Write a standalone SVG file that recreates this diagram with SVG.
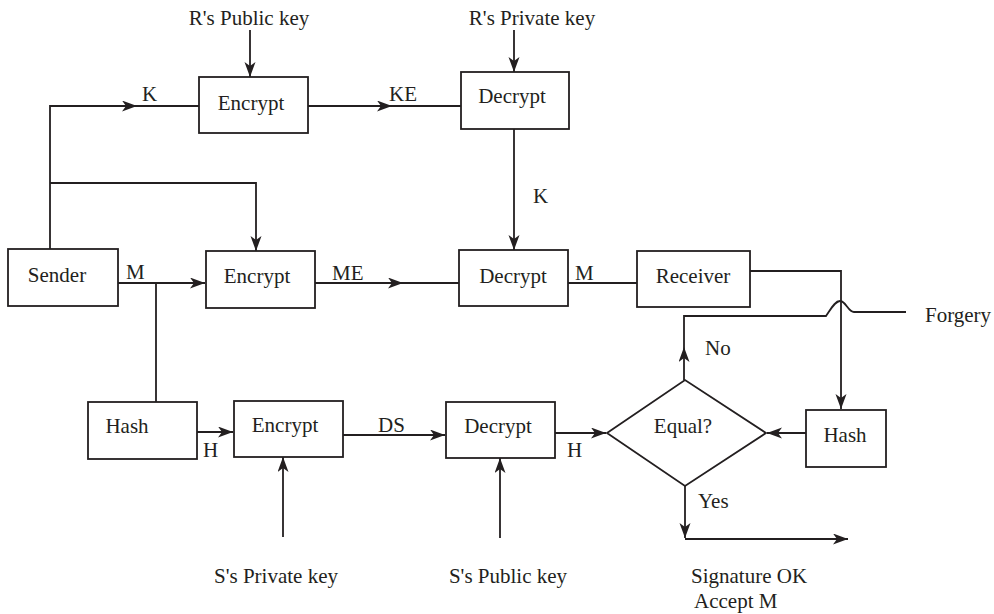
<svg xmlns="http://www.w3.org/2000/svg" width="994" height="614" viewBox="0 0 994 614" font-family="'Liberation Serif', 'DejaVu Serif', serif">
<style>
.box{fill:#fff;stroke:#231f20;stroke-width:1.8}
.ln{fill:none;stroke:#231f20;stroke-width:1.8}
.arr{marker-end:url(#ah)}
text{font-family:'Liberation Serif','DejaVu Serif',serif;font-size:21px;fill:#231f20}
.m{text-anchor:middle}
</style>
<defs>
<marker id="ah" markerUnits="userSpaceOnUse" markerWidth="16" markerHeight="12" refX="15" refY="5.5" orient="auto">
<path d="M0,0 L15,5.5 L0,11 L4,5.5 z" fill="#231f20"/>
</marker>
</defs>
<rect width="994" height="614" fill="#fff"/>
<g id="connectors">
<path class="ln arr" d="M250,30 L250,77"/>
<path class="ln arr" d="M514,30 L514,72"/>
<path class="ln arr" d="M50,249 L50,106 L137,106"/>
<path class="ln" d="M137,106 L199,106"/>
<path class="ln arr" d="M50,183 L256,183 L256,251"/>
<path class="ln arr" d="M308,106 L392,106"/>
<path class="ln" d="M392,106 L461,106"/>
<path class="ln arr" d="M514,129 L514,250"/>
<path class="ln arr" d="M118,283 L205,283"/>
<path class="ln" d="M156,283 L156,402"/>
<path class="ln arr" d="M315,283 L403,283"/>
<path class="ln" d="M403,283 L459,283"/>
<path class="ln" d="M568,283 L637,283"/>
<path class="ln arr" d="M750,271 L841,271 L841,409"/>
<path class="ln arr" d="M806,433 L767,433"/>
<path class="ln arr" d="M197,432 L233,432"/>
<path class="ln arr" d="M343,435 L445,435"/>
<path class="ln arr" d="M283,537 L283,457"/>
<path class="ln arr" d="M500,538 L500,458"/>
<path class="ln arr" d="M555,433 L606,433"/>
<path class="ln arr" d="M684,380 L684,347"/>
<path class="ln" d="M684,347 L684,316 L826,316 C831,309 835,301 840,301 C846,301 848,312 854,312 L906,312"/>
<path class="ln arr" d="M685,486 L685,538"/>
<path class="ln arr" d="M685,539 L848,539"/>
</g>
<g id="rpub"><text class="m" x="249" y="25">R's Public key</text></g>
<g id="rpriv"><text class="m" x="532" y="25">R's Private key</text></g>
<g id="enc1"><rect class="box" x="199" y="77" width="109" height="56"/><text class="m" x="251" y="110">Encrypt</text></g>
<g id="dec1"><rect class="box" x="461" y="72" width="108" height="57"/><text class="m" x="512" y="103">Decrypt</text></g>
<g id="sender"><rect class="box" x="8" y="249" width="110" height="57"/><text class="m" x="57" y="282">Sender</text></g>
<g id="enc2"><rect class="box" x="206" y="251" width="109" height="57"/><text class="m" x="257" y="283">Encrypt</text></g>
<g id="dec2"><rect class="box" x="459" y="250" width="109" height="56"/><text class="m" x="513" y="283">Decrypt</text></g>
<g id="receiver"><rect class="box" x="637" y="251" width="113" height="56"/><text class="m" x="693" y="283">Receiver</text></g>
<g id="hash1"><rect class="box" x="88" y="402" width="109" height="57"/><text class="m" x="127" y="433">Hash</text></g>
<g id="enc3"><rect class="box" x="234" y="401" width="109" height="56"/><text class="m" x="285" y="432">Encrypt</text></g>
<g id="dec3"><rect class="box" x="446" y="402" width="109" height="56"/><text class="m" x="498" y="433">Decrypt</text></g>
<g id="hash2"><rect class="box" x="806" y="410" width="80" height="57"/><text class="m" x="845" y="442">Hash</text></g>
<g id="equal"><path class="box" d="M607,433 L685,380 L766,433 L685,486 Z"/><text class="m" x="683" y="433">Equal?</text></g>
<g id="forgery"><text x="925" y="322">Forgery</text></g>
<g id="spriv"><text class="m" x="276" y="583">S's Private key</text></g>
<g id="spub"><text class="m" x="508" y="583">S's Public key</text></g>
<g id="ok"><text x="691" y="583">Signature OK</text><text x="694" y="608">Accept M</text></g>
<g id="labels">
<text x="142" y="101">K</text>
<text x="389" y="101">KE</text>
<text x="533" y="203">K</text>
<text x="126" y="279">M</text>
<text x="332" y="280">ME</text>
<text x="575" y="280">M</text>
<text x="705" y="355">No</text>
<text x="203" y="457">H</text>
<text x="378" y="432">DS</text>
<text x="567" y="457">H</text>
<text x="698" y="508">Yes</text>
</g>
</svg>
